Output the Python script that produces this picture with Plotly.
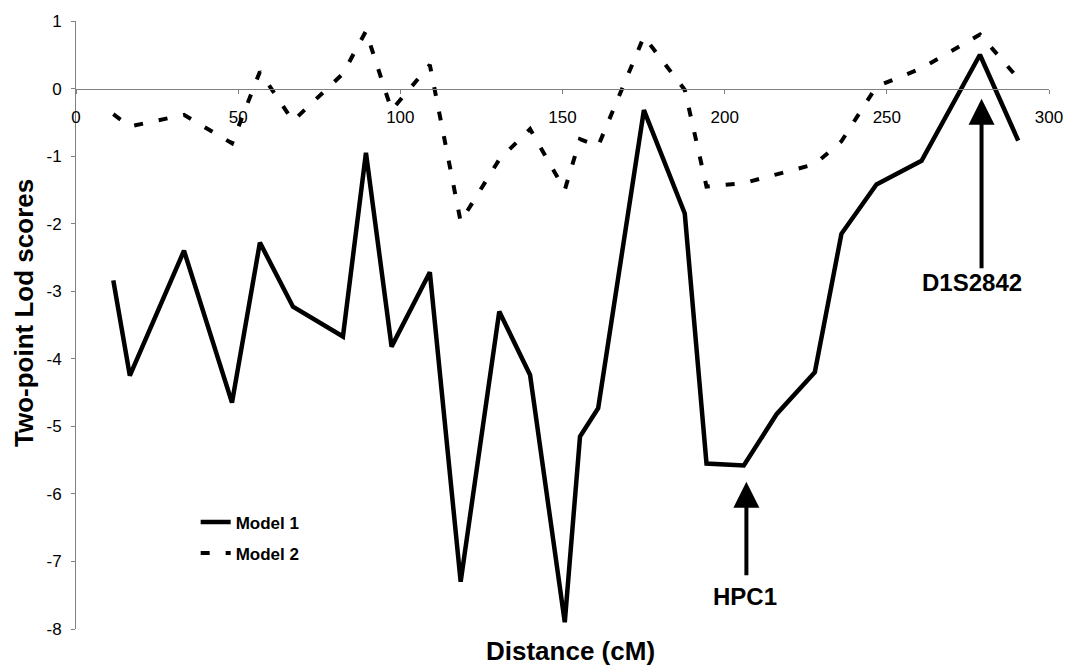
import plotly.graph_objects as go

# Distance (cM) of markers
distance_cm = [11.5, 16.6, 33.3, 48.1, 56.7, 66.9, 82.3, 89.4, 97.3, 109.1,
               118.6, 130.5, 140.0, 150.7, 155.4, 161.0, 175.1, 187.7, 194.4,
               205.9, 216.0, 227.8, 236.0, 246.8, 260.7, 278.7, 290.5]

model1_lod = [-2.84, -4.25, -2.40, -4.65, -2.28, -3.23, -3.67, -0.95, -3.82, -2.72,
              -7.30, -3.30, -4.24, -7.90, -5.15, -4.73, -0.32, -1.85, -5.55,
              -5.58, -4.82, -4.20, -2.15, -1.42, -1.07, 0.50, -0.77]

model2_lod = [-0.38, -0.56, -0.39, -0.81, 0.25, -0.48, 0.22, 0.85, -0.32, 0.35,
              -1.97, -1.05, -0.60, -1.50, -0.75, -0.85, 0.77, -0.02, -1.45,
              -1.40, -1.27, -1.12, -0.78, 0.03, 0.30, 0.80, 0.15]

x_tickvals = [0, 50, 100, 150, 200, 250, 300]
x_ticktext = ["0", "50", "100", "150", "200", "250", "300"]
y_tickvals = [1, 0, -1, -2, -3, -4, -5, -6, -7, -8]
y_ticktext = ["1", "0", "-1", "-2", "-3", "-4", "-5", "-6", "-7", "-8"]

series_names = ["Model 1", "Model 2"]
marker_labels = ["HPC1", "D1S2842"]
marker_pos = [206.7, 279.2]
marker_tip = [-5.82, -0.15]

FONT = "Liberation Sans, Arial, sans-serif"

fig = go.Figure()
fig.add_trace(go.Scatter(x=distance_cm, y=model1_lod, mode="lines", name=series_names[0],
                         legendgroup="a",
                         line=dict(color="black", width=4.5)))
fig.add_trace(go.Scatter(x=distance_cm, y=model2_lod, mode="lines", name=series_names[1],
                         legendgroup="b",
                         line=dict(color="black", width=4, dash="9px,16px")))

fig.update_layout(
    width=1066, height=666,
    margin=dict(l=76, r=17, t=21, b=37, autoexpand=False),
    paper_bgcolor="white", plot_bgcolor="white",
    font=dict(family=FONT, color="black"),
    showlegend=True,
    legend=dict(x=0.123, y=0.205, xanchor="left", yanchor="top",
                font=dict(size=17, weight="bold", family=FONT),
                bgcolor="rgba(0,0,0,0)", tracegroupgap=6),
    xaxis=dict(range=[0, 300], anchor="free", position=8/9, automargin=False,
               tickvals=x_tickvals, ticktext=x_ticktext,
               showgrid=False, zeroline=False,
               showline=True, linecolor="#808080", linewidth=1,
               ticks="outside", ticklen=4, tickcolor="#808080",
               ticklabelstandoff=9,
               tickfont=dict(size=17, family=FONT, color="black")),
    yaxis=dict(range=[-8, 1], tickvals=y_tickvals, ticktext=y_ticktext,
               automargin=False,
               showgrid=False, zeroline=False,
               showline=True, linecolor="#808080", linewidth=1,
               ticks="outside", ticklen=4, tickcolor="#808080",
               ticklabelstandoff=6,
               tickfont=dict(size=17, family=FONT, color="black")),
)

# axis titles
fig.add_annotation(text="Distance (cM)", xref="paper", yref="paper",
                   x=0.508, y=-0.0357, xanchor="center", yanchor="middle",
                   showarrow=False, font=dict(size=26, weight="bold", family=FONT))
fig.add_annotation(text="Two-point Lod scores", xref="paper", yref="paper",
                   x=-0.054, y=0.5205, xanchor="center", yanchor="middle",
                   textangle=-90, showarrow=False,
                   font=dict(size=26, weight="bold", family=FONT))

# marker arrows
arrow_len = [95, 171]
for pos, tip, L in zip(marker_pos, marker_tip, arrow_len):
    fig.add_annotation(x=pos, y=tip, xref="x", yref="y", text="",
                       showarrow=True, arrowhead=2, arrowsize=1.3, arrowwidth=4,
                       arrowcolor="black", ax=0, ay=L, standoff=0)

label_x = [206.2, 276.4]
label_y = [-7.52, -2.876]
for lab, lx, ly in zip(marker_labels, label_x, label_y):
    fig.add_annotation(x=lx, y=ly, xref="x", yref="y", text=lab, showarrow=False,
                       xanchor="center", yanchor="middle",
                       font=dict(size=24, weight="bold", family=FONT))

fig.write_html("out.html", config={"displayModeBar": False},
               post_script="document.body.style.margin='0';document.body.style.overflow='hidden';")
